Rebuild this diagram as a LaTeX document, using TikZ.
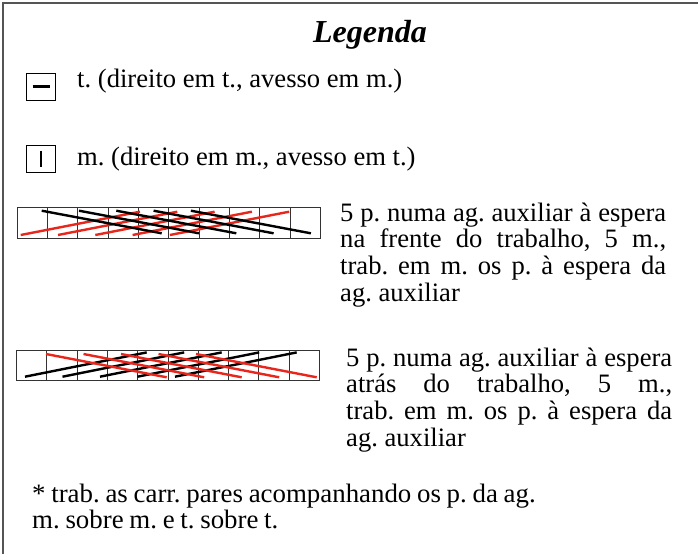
\documentclass[tikz,border=0pt]{standalone}
\usepackage{fontspec}
\setmainfont{Liberation Serif}
\newfontfamily\notefont[FakeStretch=1.01]{Liberation Serif}
\definecolor{cred}{HTML}{E8261C}
\definecolor{cframe}{HTML}{555555}
\begin{document}
\frenchspacing
\begin{tikzpicture}[x=1pt,y=-1pt,
  txt/.style={inner sep=0pt, font=\fontsize{26.6}{26.7}\selectfont},
  para/.style={txt, text width=326pt, align=justify, anchor=base west},
  keybox/.style={draw=black, line width=1pt, minimum width=29pt, minimum height=27pt, inner sep=0pt},
  gridline/.style={draw=black!80, line width=1pt},
  blk/.style={line width=2.4pt, black},
  rd/.style={line width=2.4pt, cred},
  frame/.style={draw=cframe, line width=2pt}]
\useasboundingbox (0,0) rectangle (698,554);
\draw[frame] (3,554) -- (3,3) -- (698,3);

\node[inner sep=0pt, anchor=base, font=\fontsize{32}{32}\selectfont\bfseries\itshape] (title) at (370,42) {Legenda};

% key 1
\node[keybox] (b1) at (41,86.5) {};
\draw[line width=2.6pt] (b1.center) ++(-8.5,0) -- ++(17,0);
\node[txt, anchor=base west] (t1) at (77,87) {t. (direito em t., avesso em m.)};

% key 2
\node[keybox] (b2) at (41,158.5) {};
\draw[line width=2.6pt] (b2.center) ++(0,-8) -- ++(0,16);
\node[txt, anchor=base west] (t2) at (77,165) {m. (direito em m., avesso em t.)};

% chart 1
\draw[gridline] (17,207.3) rectangle (320.5,238.3);
\foreach \i in {1,...,9} \draw[gridline] (17+\i*30.35,207.3) -- ++(0,31);
\foreach \k in {0,...,4} \draw[rd] (20.7+\k*37.3,235) -- ++(119.3,-23.3);
\foreach \k in {0,...,4} \draw[blk] (41.7+\k*37.3,210.7) -- ++(120,22.6);
\node[para] (p1) at (340,221) {5 p. numa ag. auxiliar à espera\linebreak na frente do trabalho, 5 m.,\linebreak trab. em m. os p. à espera da\linebreak ag. auxiliar};

% chart 2
\draw[gridline] (16.7,350.7) rectangle (319.3,380.7);
\foreach \i in {1,...,9} \draw[gridline] (16.7+\i*30.26,350.7) -- ++(0,30);
\foreach \k in {0,...,4} \draw[blk] (25+\k*37.5,376.7) -- ++(121.7,-24.3);
\foreach \k in {0,...,4} \draw[rd] (46+\k*37.5,354) -- ++(120.7,23.3);
\node[para] (p2) at (346,366) {5 p. numa ag. auxiliar à espera\linebreak atrás do trabalho, 5 m.,\linebreak trab. em m. os p. à espera da\linebreak ag. auxiliar};

% note
\node[inner sep=0pt, font=\notefont\fontsize{26.6}{26.7}\selectfont, text width=600pt, align=left, anchor=base west] (note) at (32,502) {\spaceskip=0.215em plus 0.05em minus 0.05em\relax * trab. as carr. pares acompanhando os p. da ag.\\m. sobre m. e t. sobre t.};
\end{tikzpicture}
\end{document}
